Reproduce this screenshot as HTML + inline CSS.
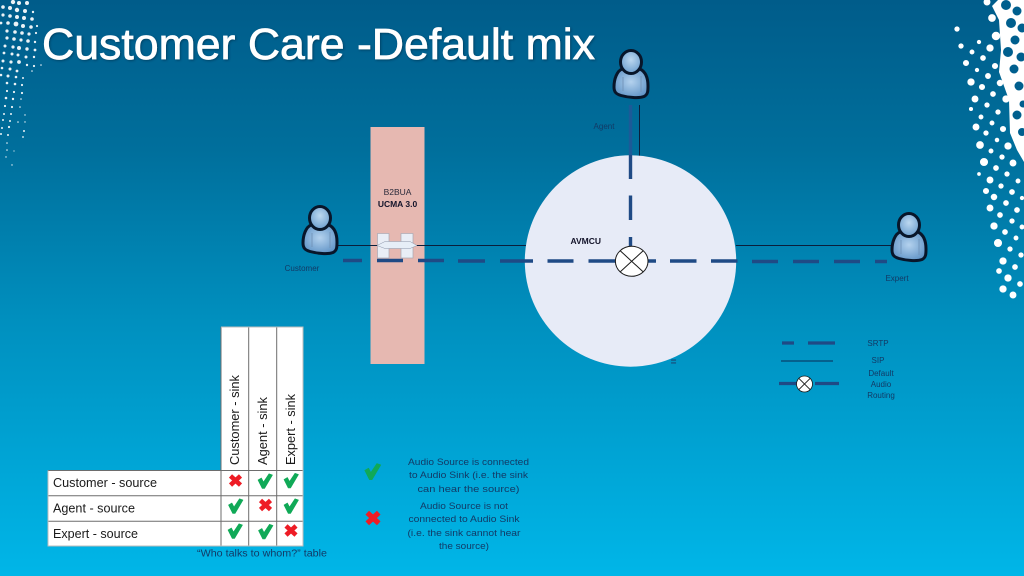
<!DOCTYPE html>
<html><head><meta charset="utf-8"><style>
html,body{margin:0;padding:0;background:#0085b0;overflow:hidden}
svg{display:block}
text{font-family:"Liberation Sans",sans-serif}
</style></head><body>
<svg xmlns="http://www.w3.org/2000/svg" width="1024" height="576" viewBox="0 0 1024 576">
<defs>
<linearGradient id="bg" x1="0" y1="0" x2="0" y2="1">
<stop offset="0" stop-color="#005c8a"/><stop offset=".26" stop-color="#006f9c"/><stop offset=".56" stop-color="#0090bf"/><stop offset="1" stop-color="#00b6e8"/>
</linearGradient>
<radialGradient id="pb" cx=".5" cy=".45" r=".6"><stop offset="0" stop-color="#b4d2ee"/><stop offset="1" stop-color="#5f93c6"/></radialGradient>
<radialGradient id="ph" cx=".5" cy=".4" r=".6"><stop offset="0" stop-color="#bcd8f0"/><stop offset="1" stop-color="#6d9fce"/></radialGradient>
<g id="person">
<path d="M-9,-16 C-14,-14 -17,-6 -17,2 C-17,7 -15,9 -10,10.5 C-3,12.5 8,13.5 13,11.5 C17,9.5 17,6 17,1 C17,-6 15,-13 9,-16 Z" fill="url(#pb)" stroke="#08162a" stroke-width="3"/>
<path d="M-8,-8 V6 M10,-9 V7" stroke="#6f8fb4" stroke-width=".8" fill="none"/>
<ellipse cx="0" cy="-23" rx="10.5" ry="11.5" fill="url(#ph)" stroke="#08162a" stroke-width="3"/>
</g>
<g id="xc"><path d="M-5,-4.6 L5,4.6 M-5,4.6 L5,-4.6" stroke="#ee1c25" stroke-width="4.6" fill="none"/></g>
<g id="ck"><path d="M-7,-1 L-3.6,-3 L-1.5,1 L4,-7.2 L7.5,-6 L-0.4,7.4 L-2.8,7.4 Z" fill="#10a957" stroke="#10a957" stroke-width=".6" stroke-linejoin="round"/></g>
<filter id="sh" x="-5%" y="-20%" width="110%" height="140%"><feDropShadow dx="1" dy="1" stdDeviation="1" flood-color="#002a48" flood-opacity=".6"/></filter>
</defs>
<rect width="1024" height="576" fill="url(#bg)"/>

<!-- left dots -->
<g fill="#ffffff" opacity=".92">
<circle cx="13" cy="2" r="2.2"/><circle cx="19" cy="3" r="2"/><circle cx="27" cy="3" r="2"/><circle cx="3" cy="7" r="1.8"/><circle cx="10" cy="8" r="2"/><circle cx="17" cy="10" r="2.2"/><circle cx="25" cy="11" r="2"/><circle cx="33" cy="12" r="1.2"/><circle cx="3" cy="15" r="1.6"/><circle cx="10" cy="16" r="1.8"/><circle cx="17" cy="17" r="2"/><circle cx="24" cy="18" r="2"/><circle cx="32" cy="19" r="1.8"/><circle cx="1" cy="23" r="1.4"/><circle cx="8" cy="23" r="1.8"/><circle cx="16" cy="24" r="2.4"/><circle cx="23" cy="26" r="2"/><circle cx="31" cy="27" r="1.8"/><circle cx="37" cy="26" r="1.1"/><circle cx="7" cy="31" r="1.6"/><circle cx="15" cy="32" r="1.8"/><circle cx="22" cy="33" r="1.8"/><circle cx="29" cy="34" r="1.6"/><circle cx="36" cy="33" r="1.1"/><circle cx="7" cy="38" r="1.6"/><circle cx="14" cy="39" r="1.8"/><circle cx="21" cy="40" r="1.6"/><circle cx="28" cy="41" r="1.8"/><circle cx="35" cy="42" r="1.2"/><circle cx="5" cy="46" r="1.5"/><circle cx="13" cy="47" r="1.6"/><circle cx="19" cy="48" r="2"/><circle cx="27" cy="49" r="1.7"/><circle cx="35" cy="50" r="1.4"/><circle cx="4" cy="53" r="1.4"/><circle cx="12" cy="54" r="1.5"/><circle cx="18" cy="55" r="1.5"/><circle cx="26" cy="57" r="1.5"/><circle cx="34" cy="57" r="1.2"/><circle cx="3" cy="61" r="1.5"/><circle cx="11" cy="62" r="1.6"/><circle cx="19" cy="62" r="1.9"/><circle cx="27" cy="65" r="1.2"/><circle cx="34" cy="66" r="1.1"/><circle cx="41" cy="65" r=".8"/><circle cx="2" cy="68" r="1.3"/><circle cx="10" cy="69" r="1.5"/><circle cx="17" cy="71" r="1.4"/><circle cx="32" cy="71" r=".8"/><circle cx="1" cy="75" r="1.3"/><circle cx="8" cy="76" r="1.5"/><circle cx="16" cy="77" r="1.3"/><circle cx="23" cy="78" r="1"/><circle cx="7" cy="83" r="1.3"/><circle cx="15" cy="84" r="1.3"/><circle cx="22" cy="85" r="1.1"/><circle cx="7" cy="91" r="1.1"/><circle cx="14" cy="92" r="1.1"/><circle cx="22" cy="93" r="1.1"/><circle cx="6" cy="98" r="1.3"/><circle cx="13" cy="99" r="1.2"/><circle cx="21" cy="99" r=".8"/><circle cx="5" cy="106" r="1.1"/><circle cx="12" cy="107" r="1.1"/><circle cx="20" cy="107" r=".8"/><circle cx="4" cy="114" r="1"/><circle cx="11" cy="114" r="1"/><circle cx="25" cy="115" r=".7"/><circle cx="3" cy="120" r="1"/><circle cx="10" cy="121" r="1"/><circle cx="18" cy="122" r=".8"/><circle cx="25" cy="122" r=".7"/><circle cx="2" cy="128" r="1"/><circle cx="9" cy="127" r="1.1"/><circle cx="24" cy="131" r="1"/><circle cx="1" cy="134" r="1"/><circle cx="8" cy="135" r="1"/><circle cx="23" cy="137" r=".9"/><circle cx="7" cy="143" r=".8"/><circle cx="14" cy="151" r=".6"/><circle cx="7" cy="150" r=".8"/><circle cx="6" cy="157" r=".7"/><circle cx="12" cy="165" r=".7"/>
</g>

<!-- right band -->
<path d="M998,0 L992,6 L999,20 L1001,50 L999,72 L1009,100 L1010,133 L1017,150 L1024,162 L1024,0 Z" fill="#ffffff"/>
<g fill="#005f8e" stroke="#005f8e" stroke-width="1">
<circle cx="1006" cy="5" r="4.5"/><circle cx="1017" cy="11" r="4"/><circle cx="1011" cy="23" r="4.5"/><circle cx="1022" cy="28" r="4"/><circle cx="1015" cy="40" r="4"/><circle cx="1008" cy="52" r="4.5"/><circle cx="1021" cy="57" r="4"/><circle cx="1014" cy="69" r="4"/><circle cx="1019" cy="86" r="4"/><circle cx="1023" cy="104" r="3"/><circle cx="1017" cy="115" r="4"/><circle cx="1022" cy="132" r="3.5"/>
</g>
<g fill="#ffffff" stroke="#ffffff" stroke-width="1.3">
<circle cx="987" cy="2" r="2.8"/><circle cx="992" cy="18" r="3.2"/><circle cx="996" cy="36" r="3.6"/><circle cx="990" cy="48" r="3"/><circle cx="983" cy="58" r="2.2"/><circle cx="995" cy="66" r="2.4"/><circle cx="966" cy="63" r="2.4"/><circle cx="961" cy="46" r="2"/><circle cx="957" cy="29" r="2"/><circle cx="979" cy="42" r="1.5"/><circle cx="972" cy="52" r="1.8"/><circle cx="977" cy="70" r="1.5"/><circle cx="988" cy="76" r="2.3"/><circle cx="971" cy="82" r="3"/><circle cx="982" cy="87" r="2.4"/><circle cx="1000" cy="83" r="2.6"/><circle cx="975" cy="99" r="2.8"/><circle cx="993" cy="94" r="2.2"/><circle cx="1006" cy="99" r="3"/><circle cx="987" cy="105" r="2"/><circle cx="971" cy="109" r="1.4"/><circle cx="981" cy="117" r="1.8"/><circle cx="998" cy="112" r="2"/><circle cx="992" cy="123" r="1.8"/><circle cx="976" cy="127" r="2.8"/><circle cx="1003" cy="129" r="2.4"/><circle cx="986" cy="133" r="2"/><circle cx="997" cy="140" r="1.6"/><circle cx="980" cy="145" r="3.2"/><circle cx="1008" cy="146" r="3"/><circle cx="991" cy="151" r="1.8"/><circle cx="1002" cy="157" r="2"/><circle cx="984" cy="162" r="3.4"/><circle cx="1013" cy="163" r="2.8"/><circle cx="996" cy="168" r="2.2"/><circle cx="1007" cy="174" r="2"/><circle cx="979" cy="174" r="1.2"/><circle cx="990" cy="180" r="2.8"/><circle cx="1018" cy="181" r="1.8"/><circle cx="1001" cy="186" r="2"/><circle cx="986" cy="191" r="2.4"/><circle cx="1012" cy="192" r="2.2"/><circle cx="994" cy="197" r="2.6"/><circle cx="1022" cy="198" r="1.5"/><circle cx="990" cy="208" r="2.8"/><circle cx="1006" cy="203" r="2.2"/><circle cx="1017" cy="210" r="2.2"/><circle cx="1000" cy="215" r="2.2"/><circle cx="1012" cy="221" r="2"/><circle cx="994" cy="226" r="3"/><circle cx="1005" cy="232" r="2.2"/><circle cx="1022" cy="227" r="1.8"/><circle cx="1016" cy="238" r="1.8"/><circle cx="998" cy="243" r="3.4"/><circle cx="1010" cy="249" r="2"/><circle cx="1021" cy="255" r="2"/><circle cx="1003" cy="261" r="3"/><circle cx="1015" cy="267" r="2.2"/><circle cx="999" cy="271" r="2.2"/><circle cx="1008" cy="278" r="3"/><circle cx="1020" cy="284" r="2.2"/><circle cx="1003" cy="289" r="3"/><circle cx="1013" cy="295" r="2.8"/>
</g>

<!-- title -->
<text x="42" y="59" font-size="44" fill="#fff" textLength="553" lengthAdjust="spacingAndGlyphs" stroke="#ffffff" stroke-width=".7" filter="url(#sh)">Customer Care -Default mix</text>

<!-- SIP lines behind -->
<path d="M338,245.5 H526 M736,245.5 H893 M639.5,105 V156" stroke="#0a1f3c" stroke-width="1" fill="none"/>

<!-- B2BUA -->
<rect x="370.5" y="127" width="54" height="237" fill="#e6b8b1"/>
<text x="397.5" y="195" font-size="8.5" fill="#2a2a3a" text-anchor="middle">B2BUA</text>
<text x="397.5" y="207" font-size="8.5" font-weight="bold" fill="#14142a" text-anchor="middle">UCMA 3.0</text>
<rect x="377.5" y="233.5" width="11.5" height="24.5" fill="#e9eef6" stroke="#a9a9b4" stroke-width=".7"/>
<rect x="401" y="233.5" width="12" height="24.5" fill="#e9eef6" stroke="#a9a9b4" stroke-width=".7"/>
<path d="M377,245.5 L385,241.5 H410 L417,245.5 L410,248.5 H385 Z" fill="#e6eef7" stroke="#8a94a8" stroke-width=".5"/>
<path d="M338,245.5 H377 M417,245.5 H430" stroke="#0a1f3c" stroke-width="1"/>

<!-- AVMCU -->
<circle cx="630.5" cy="261" r="105.7" fill="#e7ebf7"/>
<text x="570.5" y="244" font-size="8.5" font-weight="bold" fill="#14142a">AVMCU</text>
<text x="673.5" y="365" font-size="10" font-weight="bold" fill="#1a4a78" text-anchor="middle">=</text>

<!-- SRTP -->
<g stroke="#1f4a85" stroke-width="3.4" fill="none">
<path d="M343,260.5 H362 M377,260.5 H403 M418,260.5 H444 M458,261 H485 M500,261 H533 M547.5,261 H573.5 M588.5,261 H618 M646,261 H656 M670,261 H696.5 M711,261 H737.5 M752,261.5 H778 M793,261.5 H819 M834,261.5 H860 M875,261.5 H887"/>
<path d="M630.5,105 V155" stroke="#1c5a98"/>
<path d="M630.5,155 V179 M630.5,195.5 V220 M630.5,237 V248"/>
</g>
<g transform="translate(631.7,261.3)">
<ellipse rx="16.3" ry="15" fill="#fff" stroke="#1a1a1a" stroke-width="1"/>
<path d="M-11.5,-10.6 L11.5,10.6 M-11.5,10.6 L11.5,-10.6" stroke="#1a1a1a" stroke-width="1"/>
</g>

<!-- people -->
<use href="#person" transform="translate(320,241)"/>
<use href="#person" transform="translate(631,85)"/>
<use href="#person" transform="translate(909,248)"/>
<g fill="#123a66" font-size="8" text-anchor="middle">
<text x="302" y="271">Customer</text>
<text x="604" y="129">Agent</text>
<text x="897" y="281">Expert</text>
</g>

<!-- legend -->
<g stroke="#1f4a85" stroke-width="3.2" fill="none">
<path d="M782,343 H794 M808,343 H835 M779,383.5 H797 M815,383.5 H839"/>
</g>
<path d="M781,361 H833" stroke="#0a2a55" stroke-width="1"/>
<g transform="translate(804.5,384)">
<circle r="8" fill="#fff" stroke="#1a1a1a" stroke-width=".8"/>
<path d="M-5.6,-5.6 L5.6,5.6 M-5.6,5.6 L5.6,-5.6" stroke="#1a1a1a" stroke-width=".9"/>
</g>
<g fill="#123a66" font-size="8" text-anchor="middle">
<text x="878" y="346">SRTP</text>
<text x="878" y="363">SIP</text>
<text x="881" y="376">Default</text>
<text x="881" y="387">Audio</text>
<text x="881" y="398">Routing</text>
</g>

<!-- table -->
<rect x="221" y="327" width="82" height="143.5" fill="#fff"/>
<rect x="48" y="470.5" width="255" height="75.5" fill="#fff"/>
<g stroke="#6d6d6d" stroke-width="1" fill="none">
<path d="M48,470.5 H303 M48,495.7 H303 M48,521.2 H303"/>
<path d="M221,327 V546 M248.7,327 V546 M276.7,327 V546"/>
<path d="M221,327 H303 V546 H48 V470.5" stroke="#bcbcbc"/>
</g>
<g fill="#1a1a1a" font-size="12.5">
<text x="53" y="487" textLength="104" lengthAdjust="spacingAndGlyphs">Customer - source</text>
<text x="53" y="512.5" textLength="82" lengthAdjust="spacingAndGlyphs">Agent - source</text>
<text x="53" y="538" textLength="85" lengthAdjust="spacingAndGlyphs">Expert - source</text>
<text transform="translate(239,465) rotate(-90)" textLength="90" lengthAdjust="spacingAndGlyphs">Customer - sink</text>
<text transform="translate(267,465) rotate(-90)" textLength="68" lengthAdjust="spacingAndGlyphs">Agent - sink</text>
<text transform="translate(295,465) rotate(-90)" textLength="71" lengthAdjust="spacingAndGlyphs">Expert - sink</text>
</g>
<use href="#xc" transform="translate(235.5,480.5)"/>
<use href="#ck" transform="translate(265,481)"/>
<use href="#ck" transform="translate(291,480.5)"/>
<use href="#ck" transform="translate(235.5,506)"/>
<use href="#xc" transform="translate(265.5,505)"/>
<use href="#ck" transform="translate(291,506)"/>
<use href="#ck" transform="translate(235,531)"/>
<use href="#ck" transform="translate(265.5,531.5)"/>
<use href="#xc" transform="translate(291,530.5)"/>
<text x="197" y="556.5" font-size="10" fill="#123a66" textLength="130" lengthAdjust="spacingAndGlyphs">“Who talks to whom?” table</text>

<!-- key -->
<use href="#ck" transform="translate(372.5,471.5) scale(1.1)"/>
<use href="#xc" transform="translate(373,518) scale(1.15)"/>
<g fill="#123a66" font-size="9.5" text-anchor="middle">
<text x="468.5" y="465" textLength="121" lengthAdjust="spacingAndGlyphs">Audio Source is connected</text>
<text x="468.5" y="478" textLength="119" lengthAdjust="spacingAndGlyphs">to Audio Sink (i.e. the sink</text>
<text x="468.5" y="492" textLength="102" lengthAdjust="spacingAndGlyphs">can hear the source)</text>
<text x="464" y="509" textLength="88" lengthAdjust="spacingAndGlyphs">Audio Source is not</text>
<text x="464" y="522" textLength="111" lengthAdjust="spacingAndGlyphs">connected to Audio Sink</text>
<text x="464" y="536" textLength="113" lengthAdjust="spacingAndGlyphs">(i.e. the sink cannot hear</text>
<text x="464" y="549" textLength="50" lengthAdjust="spacingAndGlyphs">the source)</text>
</g>
</svg>
</body></html>
